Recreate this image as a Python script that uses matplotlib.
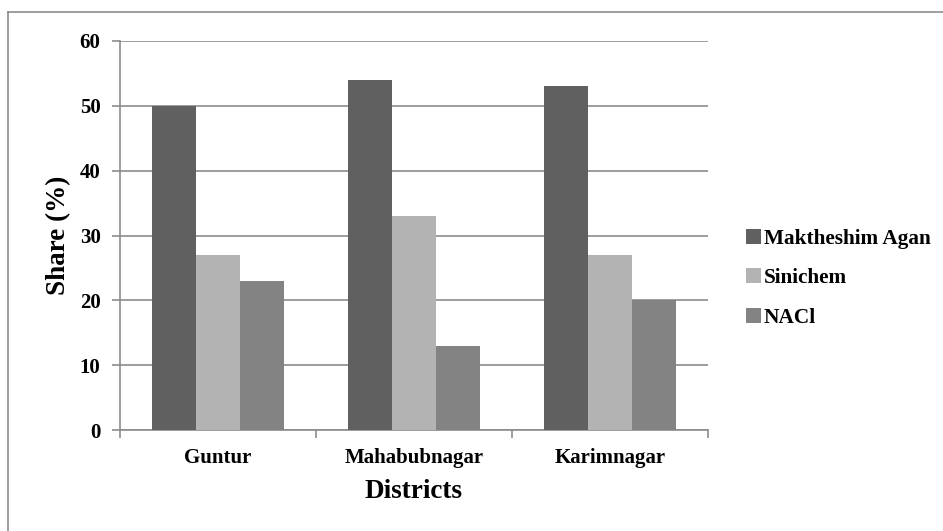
import numpy as np
import matplotlib.pyplot as plt
from matplotlib.lines import Line2D

# 데이터
districts = ["Guntur", "Mahabubnagar", "Karimnagar"]
companies = ["Maktheshim Agan", "Sinichem", "NACl"]
maktheshim = [50, 54, 53]
sinichem = [27, 33, 27]
nacl = [23, 13, 20]

colors = ["#606060", "#b3b3b3", "#838383"]
grid_color = "#8c8c8c"

plt.rcParams["font.family"] = ["Liberation Serif", "DejaVu Serif"]
plt.rcParams["font.weight"] = "bold"

fig = plt.figure(figsize=(9.43, 5.31), dpi=100)
ax = fig.add_axes([120 / 943, 1 - 430 / 531, 588 / 943, 389 / 531])

x = np.arange(len(districts))
width = 0.224
for i, (vals, name) in enumerate(zip([maktheshim, sinichem, nacl], companies)):
    ax.bar(x + (i - 1) * width, vals, width, color=colors[i], label=name, zorder=3)

ax.set_xlim(-0.5, len(districts) - 0.5)
ax.set_ylim(0, 60)
ax.set_yticks(range(0, 61, 10))
ax.yaxis.grid(True, color=grid_color, linewidth=1.2, zorder=0)

# 카테고리 경계 눈금
ax.set_xticks(np.arange(-0.5, len(districts), 1.0))
ax.set_xticklabels([])
ax.set_xticks(x, minor=True)
ax.set_xticklabels(districts, minor=True, fontsize=15, fontweight="bold")
ax.tick_params(axis="x", which="minor", length=0, pad=13)
ax.tick_params(axis="x", which="major", length=6, color=grid_color, width=1.2)
ax.tick_params(axis="y", length=6, color=grid_color, width=1.2, labelsize=15, pad=8)
for lab in ax.get_yticklabels():
    lab.set_fontweight("bold")

for side in ["top", "right"]:
    ax.spines[side].set_visible(False)
for side in ["left", "bottom"]:
    ax.spines[side].set_color(grid_color)
    ax.spines[side].set_linewidth(1.2)

ax.set_xlabel("Districts", fontsize=19.5, fontweight="bold", labelpad=8)
ax.set_ylabel("Share (%)", fontsize=19.5, fontweight="bold", labelpad=6)

leg = ax.legend(loc="center left", bbox_to_anchor=(1.032, 0.39), frameon=False,
                fontsize=15.3, handlelength=0.72, handleheight=0.72,
                handletextpad=0.12, labelspacing=0.92)
for t in leg.get_texts():
    t.set_fontweight("bold")

# 바깥 테두리
fig.add_artist(Line2D([8 / 943, 8 / 943], [0, 1 - 12 / 531], color=grid_color, lw=1.2))
fig.add_artist(Line2D([8 / 943, 1], [1 - 12 / 531, 1 - 12 / 531], color=grid_color, lw=1.2))

fig.savefig("out.png", dpi=100)
